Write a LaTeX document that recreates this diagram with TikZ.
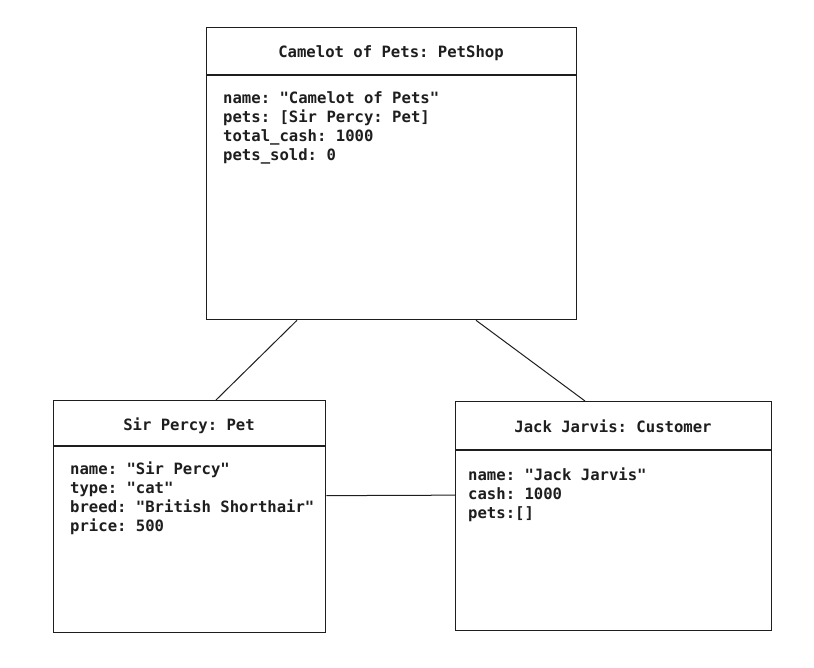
\documentclass[tikz,border=0pt]{standalone}
\usepackage{fontspec}
\setmonofont{DejaVu Sans Mono}
\usetikzlibrary{positioning}
\definecolor{ink}{HTML}{1E1E1E}
\tikzset{
  objbox/.style={draw=ink, line width=1.3pt, rectangle, anchor=north west, inner sep=0pt},
  objtitle/.style={text=ink, font=\ttfamily\bfseries\fontsize{15.6}{19}\selectfont, anchor=base, inner sep=0pt},
  objattrs/.style={text=ink, font=\ttfamily\bfseries\fontsize{15.6}{19}\selectfont, align=left, anchor=north west, inner sep=0pt},
  link/.style={draw=ink, line width=1pt},
  rule/.style={draw=ink, line width=1.6pt},
}
\begin{document}
\begin{tikzpicture}[x=1pt, y=-1pt]
\useasboundingbox (0,0) rectangle (814,667);

% the three objects
\node [objbox, minimum width=370pt, minimum height=292pt] (shop) at (206,27) {};
\node [objbox, minimum width=272pt, minimum height=232pt] (pet) at (53,400) {};
\node [objbox, minimum width=316pt, minimum height=229pt] (cust) at (455,401) {};

\draw [rule] ([yshift=-48pt]shop.north west) -- ([yshift=-48pt]shop.north east);
\draw [rule] ([yshift=-46pt]pet.north west) -- ([yshift=-46pt]pet.north east);
\draw [rule] ([yshift=-49pt]cust.north west) -- ([yshift=-49pt]cust.north east);

\node [objtitle] (shoptitle) at (391,57) {Camelot of Pets: PetShop};
\node [objtitle] (pettitle) at (189,430) {Sir Percy: Pet};
\node [objtitle] (custtitle) at (613,432) {Jack Jarvis: Customer};

\node [objattrs] (shopattrs) at (223,91) {name: "Camelot of Pets"\\pets: [Sir Percy: Pet]\\total\_cash: 1000\\pets\_sold: 0};
\node [objattrs] (petattrs) at (70,462) {name: "Sir Percy"\\type: "cat"\\breed: "British Shorthair"\\price: 500};
\node [objattrs] (custattrs) at (468,468) {name: "Jack Jarvis"\\cash: 1000\\pets:[]};

% links
\draw [link] ([xshift=91pt]shop.south west) -- ([xshift=163pt]pet.north west);
\draw [link] ([xshift=270pt]shop.south west) -- ([xshift=130pt]cust.north west);
\draw [link] ([yshift=21pt]pet.east) -- ([yshift=21pt]cust.west);
\end{tikzpicture}
\end{document}
